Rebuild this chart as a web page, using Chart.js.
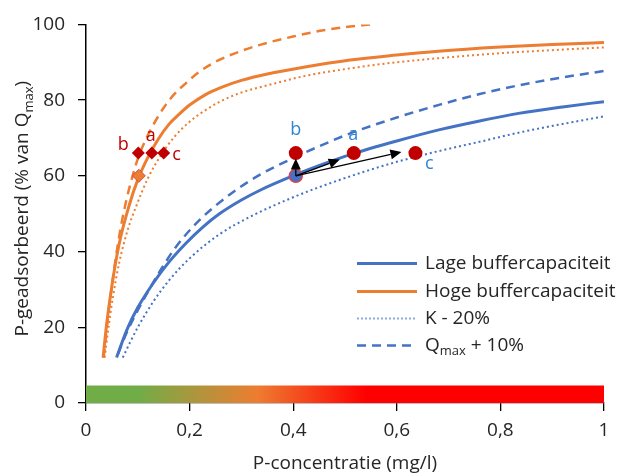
<!DOCTYPE html>
<html>
<head>
<meta charset="utf-8">
<script src="https://cdn.jsdelivr.net/npm/chart.js@4.4.0/dist/chart.umd.min.js"></script>
<style>
  html, body { margin: 0; padding: 0; background: #fff; }
</style>
</head>
<body>
<canvas id="chart" width="629" height="473"></canvas>
<script>
// curves
const hogeX = [0.033, 0.04, 0.05, 0.064, 0.084, 0.1, 0.12, 0.14, 0.16, 0.18, 0.2, 0.23, 0.26, 0.3, 0.35, 0.42, 0.51, 0.6, 0.68, 0.8, 0.9, 1.0];
const hogeY = [12, 21, 31, 42, 52.5, 59, 65, 69.8, 73.6, 76.3, 78.7, 81.4, 83.3, 85.2, 86.9, 88.7, 90.6, 91.9, 92.9, 94, 94.7, 95.2];

const hogeKX = [0.036, 0.044, 0.052, 0.064, 0.08, 0.097, 0.12, 0.145, 0.17, 0.2, 0.23, 0.26, 0.3, 0.35, 0.42, 0.51, 0.6, 0.683, 0.8, 0.9, 1.0];
const hogeKY = [12, 20.5, 28, 37, 45.5, 52, 59.5, 65.5, 70.2, 74.3, 77.3, 79.7, 82, 83.9, 86.3, 88.4, 90, 91.1, 92.4, 93.2, 93.9];

const hogeQX = [0.034, 0.042, 0.05, 0.064, 0.077, 0.09, 0.1, 0.115, 0.13, 0.15, 0.17, 0.193, 0.22, 0.257, 0.3, 0.341, 0.4, 0.452, 0.5, 0.55];
const hogeQY = [12, 22, 31, 44, 53, 60, 64.5, 69.5, 73.5, 78, 81.5, 84.5, 87.6, 90.6, 93, 94.8, 96.8, 98.3, 99.3, 100];

const lageX = [0.059, 0.07, 0.081, 0.1, 0.129, 0.16, 0.193, 0.225, 0.257, 0.3, 0.336, 0.405, 0.46, 0.51, 0.6, 0.683, 0.76, 0.835, 0.92, 1.0];
const lageY = [12, 16.2, 20, 25.2, 31.5, 37.2, 42.2, 46.4, 49.9, 53.6, 56.2, 60.3, 63.2, 65.6, 69.2, 72.2, 74.5, 76.5, 78.2, 79.6];

const lageKX = [0.071, 0.085, 0.1, 0.13, 0.161, 0.2, 0.257, 0.317, 0.394, 0.45, 0.535, 0.6, 0.683, 0.76, 0.835, 0.92, 1.0];
const lageKY = [12, 16, 20, 26.8, 32.5, 38.2, 44.5, 49.2, 54, 57, 61, 63.7, 66.6, 69, 71.4, 73.7, 75.7];

const lageQX = [0.062, 0.075, 0.1, 0.122, 0.148, 0.174, 0.219, 0.283, 0.336, 0.405, 0.46, 0.51, 0.6, 0.683, 0.76, 0.835, 0.92, 1.0];
const lageQY = [13, 17.5, 24.5, 30, 36, 41.3, 48.3, 55.6, 60.3, 65, 68.4, 71.2, 75.4, 78.8, 81.6, 83.9, 86, 87.7];

// markers
const diamondX = [0.101, 0.127, 0.150];
const diamondY = [66, 66, 66];
const diamondStart = { x: 0.102, y: 60 };
const circleX = [0.405, 0.517, 0.636];
const circleY = [66, 66, 66];
const circleStart = { x: 0.405, y: 60 };

const pointLabels = ['b', 'a', 'c'];
const hogeLabelX = [0.072, 0.125, 0.175];
const hogeLabelY = [68.3, 70.5, 65.5];
const lageLabelX = [0.405, 0.516, 0.663];
const lageLabelY = [72.2, 70.7, 63.1];

// arrows from the start point to b, a, c
const arrowToX = [0.405, 0.49, 0.609];
const arrowToY = [64.6, 64.3, 66.3];

// colour bar along the x axis
const barX = [0, 1];
const barY = [4.6, 4.6];
const barStops = [0, 0.1, 0.33, 0.54, 1];
const barColors = ['#70AD47', '#70AD47', '#ED7D31', '#FF0000', '#FF0000'];

const xTicks = [0, 0.2, 0.4, 0.6, 0.8, 1];
const legendLabels = ['Lage buffercapaciteit', 'Hoge buffercapaciteit', 'K - 20%', 'Q'];

const BLUE = '#4472C4';
const ORANGE = '#ED7D31';
const DARKRED = '#C00000';
const LABELBLUE = '#2E86CF';
const FONT = '"Open Sans"';
const FS = 19;
const TEXT = '#262626';

const pts = (xs, ys) => xs.map((x, i) => ({ x: x, y: ys[i] }));

function curve(xs, ys, color, width, dash) {
    return {
        data: pts(xs, ys),
        showLine: true,
        borderColor: color,
        borderWidth: width,
        borderDash: dash,
        pointRadius: 0,
        cubicInterpolationMode: 'monotone',
        fill: false,
        order: 5
    };
}

const annotate = {
    id: 'annotate',
    afterDatasetsDraw(chart) {
        const ctx = chart.ctx;
        const xs = chart.scales.x, ys = chart.scales.y;
        // arrows
        ctx.save();
        ctx.strokeStyle = '#000';
        ctx.fillStyle = '#000';
        ctx.lineWidth = 1.3;
        const sx = xs.getPixelForValue(circleStart.x), sy = ys.getPixelForValue(circleStart.y);
        arrowToX.forEach((ax, i) => {
            const tx = xs.getPixelForValue(ax), ty = ys.getPixelForValue(arrowToY[i]);
            const ang = Math.atan2(ty - sy, tx - sx);
            const len = 11, half = 5;
            const bx = tx - len * Math.cos(ang), by = ty - len * Math.sin(ang);
            ctx.beginPath();
            ctx.moveTo(sx, sy);
            ctx.lineTo(bx, by);
            ctx.stroke();
            ctx.beginPath();
            ctx.moveTo(tx, ty);
            ctx.lineTo(bx + half * Math.sin(ang), by - half * Math.cos(ang));
            ctx.lineTo(bx - half * Math.sin(ang), by + half * Math.cos(ang));
            ctx.closePath();
            ctx.fill();
        });
        ctx.restore();
        // point labels
        ctx.save();
        ctx.font = '18px ' + FONT;
        ctx.textAlign = 'center';
        ctx.textBaseline = 'middle';
        pointLabels.forEach((t, i) => {
            ctx.fillStyle = DARKRED;
            ctx.fillText(t, xs.getPixelForValue(hogeLabelX[i]), ys.getPixelForValue(hogeLabelY[i]));
            ctx.fillStyle = LABELBLUE;
            ctx.fillText(t, xs.getPixelForValue(lageLabelX[i]), ys.getPixelForValue(lageLabelY[i]));
        });
        ctx.restore();
    },
    afterDraw(chart) {
        const ctx = chart.ctx;
        // legend
        const rows = [
            { color: BLUE, width: 3, dash: [] },
            { color: ORANGE, width: 3, dash: [] },
            { color: '#8FAADC', width: 2, dash: [2, 2] },
            { color: BLUE, width: 2.5, dash: [9, 6] }
        ];
        const rowY = [263.5, 291.5, 318.5, 345.5];
        ctx.save();
        ctx.font = FS + 'px ' + FONT;
        ctx.textBaseline = 'middle';
        rows.forEach((r, i) => {
            ctx.strokeStyle = r.color;
            ctx.lineWidth = r.width;
            ctx.setLineDash(r.dash);
            ctx.beginPath();
            ctx.moveTo(357, rowY[i]);
            ctx.lineTo(417, rowY[i]);
            ctx.stroke();
            ctx.setLineDash([]);
            ctx.fillStyle = TEXT;
            ctx.fillText(legendLabels[i], 425, rowY[i]);
        });
        // Q_max + 10%
        let x = 425 + ctx.measureText('Q').width;
        ctx.font = '13px ' + FONT;
        ctx.fillText('max', x, rowY[3] + 6);
        x += ctx.measureText('max').width;
        ctx.font = FS + 'px ' + FONT;
        ctx.fillText(' + 10%', x, rowY[3]);
        ctx.restore();

        // y axis title with subscript
        const a = chart.chartArea;
        const p1 = 'P-geadsorbeerd (% van Q', p2 = 'max', p3 = ')';
        ctx.save();
        ctx.fillStyle = TEXT;
        ctx.textBaseline = 'middle';
        ctx.font = FS + 'px ' + FONT;
        const w1 = ctx.measureText(p1).width, w3 = ctx.measureText(p3).width;
        ctx.font = '13px ' + FONT;
        const w2 = ctx.measureText(p2).width;
        const total = w1 + w2 + w3;
        ctx.translate(23, (a.top + a.bottom) / 2 - 5);
        ctx.rotate(-Math.PI / 2);
        let cx = -total / 2;
        ctx.font = FS + 'px ' + FONT;
        ctx.fillText(p1, cx, 0);
        cx += w1;
        ctx.font = '13px ' + FONT;
        ctx.fillText(p2, cx, 6);
        cx += w2;
        ctx.font = FS + 'px ' + FONT;
        ctx.fillText(p3, cx, 0);
        ctx.restore();
    }
};

new Chart(document.getElementById('chart'), {
    type: 'scatter',
    data: {
        datasets: [
            {
                data: pts(barX, barY),
                showLine: true,
                borderWidth: 0,
                pointRadius: 0,
                fill: 'origin',
                order: 10,
                backgroundColor: (c) => {
                    const chart = c.chart;
                    if (!chart.chartArea) return barColors[0];
                    const xs = chart.scales.x;
                    const g = chart.ctx.createLinearGradient(xs.getPixelForValue(0), 0, xs.getPixelForValue(1), 0);
                    barStops.forEach((s, i) => g.addColorStop(s, barColors[i]));
                    return g;
                }
            },
            curve(lageX, lageY, BLUE, 3, []),
            curve(hogeX, hogeY, ORANGE, 3, []),
            curve(lageKX, lageKY, BLUE, 2, [2, 3]),
            curve(hogeKX, hogeKY, ORANGE, 2, [2, 3]),
            curve(lageQX, lageQY, BLUE, 2.5, [9, 6]),
            curve(hogeQX, hogeQY, ORANGE, 2.5, [9, 6]),
            {
                data: [diamondStart],
                pointStyle: 'rectRot',
                pointRadius: 6.5,
                backgroundColor: ORANGE,
                borderColor: '#D05050',
                borderWidth: 1,
                order: 1
            },
            {
                data: pts(diamondX, diamondY),
                pointStyle: 'rectRot',
                pointRadius: 6.5,
                backgroundColor: DARKRED,
                borderColor: DARKRED,
                borderWidth: 0,
                order: 1
            },
            {
                data: [circleStart],
                pointStyle: 'circle',
                pointRadius: 6.5,
                backgroundColor: BLUE,
                borderColor: '#E04050',
                borderWidth: 1.5,
                order: 1
            },
            {
                data: pts(circleX, circleY),
                pointStyle: 'circle',
                pointRadius: 7,
                backgroundColor: DARKRED,
                borderColor: DARKRED,
                borderWidth: 0,
                order: 1
            }
        ]
    },
    options: {
        responsive: false,
        animation: false,
        layout: { padding: { top: 21, right: 25, left: 0, bottom: 0 } },
        plugins: {
            legend: { display: false },
            tooltip: { enabled: false }
        },
        scales: {
            x: {
                type: 'linear',
                min: 0,
                max: 1,
                afterFit: (s) => { s.height = 70; },
                afterBuildTicks: (s) => { s.ticks = xTicks.map(v => ({ value: v })); },
                grid: { drawOnChartArea: false, drawTicks: true, tickLength: 8, color: '#000', lineWidth: 1.3 },
                border: { color: '#000', width: 1.3 },
                ticks: {
                    color: TEXT,
                    font: { family: FONT, size: FS },
                    padding: 8,
                    maxRotation: 0,
                    callback: (v) => (v === 0 || v === 1) ? String(v) : v.toFixed(1).replace('.', ',')
                },
                title: {
                    display: true,
                    text: 'P-concentratie (mg/l)',
                    color: TEXT,
                    font: { family: FONT, size: FS },
                    padding: { top: 0, bottom: -2 }
                }
            },
            y: {
                min: 0,
                max: 100,
                afterFit: (s) => { s.width = 86; },
                grid: { drawOnChartArea: false, drawTicks: true, tickLength: 8, color: '#000', lineWidth: 1.3 },
                border: { color: '#000', width: 1.5 },
                ticks: {
                    stepSize: 20,
                    color: TEXT,
                    font: { family: FONT, size: FS },
                    padding: 13
                }
            }
        }
    },
    plugins: [annotate]
});
</script>
</body>
</html>
